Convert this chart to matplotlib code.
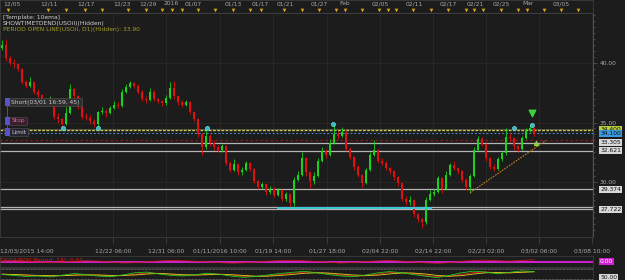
import matplotlib.pyplot as plt
import numpy as np

# USOil H4 candles (open = previous close)
first_open = 41.3
closes = [
    41.5, 40.4, 40.0, 39.9, 39.5, 38.4, 38.1, 38.4, 37.6, 37.3,
    37.0, 36.8, 36.9, 35.5, 35.3, 34.9, 35.8, 37.8, 37.2, 36.3,
    35.5, 35.4, 35.1, 34.9, 35.9, 36.0, 35.8, 36.2, 36.5, 36.4,
    37.6, 38.0, 38.3, 38.1, 37.6, 37.0, 36.9, 37.6, 37.0, 36.8,
    36.6, 37.1, 37.9, 37.2, 36.7, 36.5, 36.7, 35.9, 35.3, 34.0,
    32.9, 33.9, 33.3, 32.9, 32.7, 33.0, 31.6, 31.0, 31.5, 30.8,
    31.0, 31.6, 31.1, 30.1, 29.6, 29.8, 29.2, 29.4, 28.9, 29.3,
    28.6, 29.0, 28.2, 30.2, 30.6, 32.0, 30.8, 30.1, 30.5, 31.8,
    32.6, 32.3, 33.3, 34.0, 33.9, 34.2, 32.8, 32.1, 31.3, 30.6,
    29.9, 31.0, 32.3, 32.7, 31.8, 31.6, 31.2, 30.9, 30.4, 29.9,
    28.6, 28.3, 28.5, 27.3, 26.9, 26.6, 28.5, 29.0, 29.2, 30.3,
    29.4, 30.6, 31.4, 31.2, 30.9, 30.2, 29.6, 30.5, 32.7, 33.6,
    33.2, 32.0, 31.3, 31.1, 31.9, 32.4, 33.8, 33.7, 33.0, 32.8,
    33.7, 34.3, 34.5, 34.1,
]
highs = [
    41.9, 42.0, 40.6, 40.3, 40.0, 39.6, 38.6, 38.8, 38.5, 37.8,
    37.4, 37.1, 37.2, 37.0, 35.8, 35.4, 36.3, 38.2, 37.9, 37.3,
    36.4, 35.8, 35.6, 35.3, 36.0, 36.3, 36.1, 36.4, 36.8, 36.7,
    37.8, 38.2, 38.5, 38.4, 38.2, 37.7, 37.2, 37.9, 37.7, 37.1,
    36.9, 37.3, 38.4, 38.5, 37.3, 36.9, 36.9, 36.8, 36.0, 35.4,
    34.1, 34.5, 34.0, 33.5, 33.1, 33.2, 33.1, 31.8, 31.9, 31.6,
    31.3, 31.8, 31.7, 31.2, 30.2, 30.0, 29.9, 29.7, 29.6, 29.5,
    29.4, 29.2, 29.1, 30.4, 30.9, 32.5, 32.1, 30.9, 30.8, 32.0,
    32.9, 32.8, 33.6, 34.9, 34.3, 34.6, 34.3, 32.9, 32.2, 31.4,
    30.7, 31.2, 32.5, 33.5, 32.8, 32.0, 31.8, 31.3, 31.0, 30.5,
    30.0, 28.8, 28.8, 28.6, 27.4, 27.0, 28.7, 29.3, 29.4, 30.5,
    30.4, 30.9, 31.6, 31.8, 31.3, 31.0, 30.3, 30.7, 32.9, 33.9,
    33.8, 33.3, 32.1, 31.5, 32.1, 32.6, 34.5, 34.1, 33.8, 33.1,
    33.9, 34.5, 34.9, 34.6,
]
lows = [
    41.1, 40.2, 39.8, 39.6, 39.3, 38.2, 37.9, 38.0, 37.4, 37.1,
    36.8, 36.5, 36.6, 35.3, 35.0, 34.5, 34.8, 35.7, 36.9, 36.1,
    35.3, 35.2, 34.9, 34.6, 34.5, 35.7, 35.5, 35.7, 36.1, 36.2,
    36.3, 37.5, 37.9, 37.9, 37.4, 36.8, 36.6, 36.8, 36.8, 36.6,
    36.4, 36.5, 37.0, 37.0, 36.5, 36.3, 36.4, 35.7, 35.1, 33.8,
    32.3, 32.8, 33.0, 32.7, 32.5, 32.5, 31.4, 30.8, 30.9, 30.6,
    30.6, 30.9, 30.9, 29.9, 29.4, 29.4, 28.9, 29.0, 28.7, 28.8,
    28.4, 28.4, 27.8, 28.0, 30.1, 30.5, 30.5, 29.5, 29.8, 30.4,
    31.7, 32.0, 32.2, 33.2, 33.6, 33.8, 32.6, 31.9, 31.0, 30.4,
    29.6, 29.8, 30.9, 32.2, 31.6, 31.4, 31.0, 30.7, 30.2, 29.7,
    28.4, 28.1, 28.1, 27.1, 26.6, 26.1, 26.5, 28.4, 28.8, 29.1,
    29.1, 29.3, 30.5, 31.0, 30.7, 30.0, 29.3, 29.1, 30.4, 32.6,
    33.0, 31.8, 31.1, 30.9, 31.0, 31.8, 32.3, 33.4, 32.7, 32.5,
    32.7, 33.6, 34.2, 33.9,
]

# horizontal levels drawn on the chart
white_levels = [33.305, 32.621, 29.374, 27.9, 27.722]
white_labels = ["33.305", "32.621", "29.374", "", "27.722"]
tp_level = 34.4
limit_level = 34.1
stop_level = 33.57
support_level = 27.82
support_span = [68.75, 107.5]
trend_x = [117, 136]
trend_y = [29.1, 33.5]
touch_x = [15.25, 24, 51.25, 82.75, 128, 132.5]
touch_y = [34.5, 34.5, 34.5, 34.9, 34.5, 34.8]

# order tags at the left edge
tag_names = ["Short(03/01 16:59, 45)", "Stop", "Limit"]
tag_prices = [36.72, 35.13, 34.2]
tag_faces = ["#2e2e2e", "#3a1c2c", "#262632"]
tag_colors = ["#c8c8c8", "#c87898", "#c8c8d8"]

# time axes
bottom_ticks = [27.75, 41, 54.5, 67.75, 81.25, 94.5, 107.75, 121, 134.25, 147.5]
bottom_labels = ["12/22 06:00", "12/31 06:00", "01/11/2016 10:00", "01/19 14:00",
                 "01/27 18:00", "02/04 22:00", "02/14 22:00", "02/23 02:00",
                 "03/02 06:00", "03/08 10:00"]
top_ticks = [0.25, 9.5, 18.75, 27.75, 34.25, 40.5, 45.75, 55.75, 62.5, 68.75,
             77.25, 84.25, 92.5, 101, 109.5, 116.25, 122.75, 130, 137.75]
top_labels = ["12/05", "12/11", "12/17", "12/23", "12/29", "2016", "01/07", "01/13",
              "01/17", "01/21", "01/27", "Feb", "02/05", "02/11", "02/17", "02/21",
              "02/25", "Mar", "03/05"]
day_marks = [1.5, 11.5, 16, 20.75, 25, 31.5, 36, 40, 42.5, 45, 49, 53.25, 57.75,
             62, 64.75, 70.5, 75, 79.25, 83.5, 85.75, 90, 94.25, 96.5, 98.5, 102.75,
             107.25, 111.5, 116, 118, 120.25, 124.75, 129, 131.25, 135.5, 139.75,
             144, 148.25]

# indicator panels
osc = [0.3, 0.5, 0.2, -0.2, -0.5, -0.3, 0.1, 0.4, 0.2, -0.3, -0.8, -0.6, -0.2,
       0.3, 0.6, 0.4, 0.1, -0.2, -0.6, -0.9, -0.7, -0.3, 0.2, 0.5, 0.7, 0.4, 0.0,
       -0.4, -0.8, -0.5, -0.1, 0.3, 0.6, 0.2, -0.3, -0.7, -1.0, -0.6, 0.1, 0.5,
       0.8, 0.4, 0.2, 0.6, 0.9]
rsi_fast = [48, 44, 40, 42, 38, 45, 52, 47, 41, 39, 46, 55, 58, 50, 44, 42, 47,
            53, 49, 41, 36, 40, 46, 52, 57, 61, 55, 48, 42, 39, 45, 54, 60, 56,
            48, 41, 35, 44, 55, 62, 58, 51, 57, 63, 60]
rsi_slow = [50, 47, 44, 42, 41, 43, 47, 48, 45, 42, 43, 49, 54, 53, 48, 44, 45,
            49, 50, 46, 40, 39, 43, 48, 53, 58, 57, 52, 46, 41, 42, 49, 56, 57,
            52, 45, 39, 40, 48, 56, 59, 55, 54, 59, 61]
rsi_sig = [49, 48, 46, 44, 43, 43, 45, 46, 46, 44, 44, 46, 50, 52, 50, 47, 46,
           47, 48, 47, 44, 41, 41, 44, 48, 53, 55, 54, 50, 46, 44, 45, 50, 54,
           54, 50, 44, 41, 43, 50, 55, 56, 55, 57, 59]

BG = "#1c1c1c"
GRID = "#282828"
TXT = "#a8a8a8"
W, H = 625, 280
FS = 4.3

fig = plt.figure(figsize=(W / 100, H / 100), dpi=100)
fig.patch.set_facecolor(BG)


def px_axes(x0, y0, x1, y1):
    a = fig.add_axes([x0 / W, 1 - y1 / H, (x1 - x0) / W, (y1 - y0) / H])
    a.set_facecolor(BG)
    for s in a.spines.values():
        s.set_color("#3c3c3c")
        s.set_linewidth(0.6)
    return a


XL = (-0.5, 147.75)

# ---- main price panel
ax = px_axes(0, 13, 593, 237)
ax.set_xlim(*XL)
ax.set_ylim(25.38, 44.2)

opens = [first_open] + closes[:-1]
x = np.arange(len(closes))
o = np.array(opens)
c = np.array(closes)
up = c >= o
cols = np.where(up, "#19d219", "#e01010")
ax.vlines(x, lows, highs, colors=cols, linewidth=0.6, zorder=3)
ax.bar(x, np.maximum(np.abs(c - o), 0.05), bottom=np.minimum(o, c), width=0.5,
       color=cols, linewidth=0, zorder=3)

ax.set_xticks(bottom_ticks)
ax.set_xticklabels(bottom_labels)
ax.set_yticks([30, 35, 40])
ax.set_yticklabels(["30.00", "35.00", "40.00"])
ax.set_yticks(np.arange(26, 44.5, 0.5), minor=True)
ax.yaxis.tick_right()
ax.tick_params(axis="y", which="major", colors="#5a5a5a", labelcolor=TXT,
               labelsize=FS, length=3, pad=2, width=0.5)
ax.tick_params(axis="y", which="minor", colors="#5a5a5a", length=1.5, width=0.5)
ax.tick_params(axis="x", colors="#4a4a4a", labelcolor=TXT, labelsize=FS,
               length=4, pad=4, width=0.5, direction="out")
ax.grid(True, color=GRID, linewidth=0.6)
ax.spines["right"].set_color("#5a5a5a")

for lv in white_levels:
    ax.axhline(lv, color="#b4b4b4", linewidth=0.9, zorder=2)
ax.axhline(tp_level, color="#c8c85a", linewidth=1.0, linestyle=(0, (2, 1)), zorder=2)
ax.axhline(tp_level + 0.08, color="#6a6a4a", linewidth=0.5, zorder=2)
ax.axhline(limit_level, color="#4a90d0", linewidth=0.7, linestyle=(0, (2, 2)), zorder=2)
ax.axhline(stop_level, color="#8a1c1c", linewidth=0.9, linestyle=(0, (2, 2)), zorder=2)
ax.hlines(support_level, support_span[0], support_span[1], color="#3cc8d8",
          linewidth=1.4, zorder=4)
ax.plot(trend_x, trend_y, color="#c8801e", linewidth=0.8, linestyle=(0, (1.5, 1)),
        zorder=4)
ax.scatter(touch_x, touch_y, s=9, color="#38b8c0", edgecolors="#7ff0f0",
           linewidths=0.4, zorder=5)
ax.scatter([touch_x[-1]], [touch_y[-1] + 1.0], marker="v", s=22, color="#3cd23c",
           zorder=6)
ax.scatter([133.5], [33.3], marker="^", s=8, color="#8ed23c", zorder=6)

ytr = ax.get_yaxis_transform()
box = dict(boxstyle="square,pad=0.15", linewidth=0)
for lv, lab in zip(white_levels, white_labels):
    if lab:
        ax.text(1.012, lv, lab, transform=ytr, fontsize=FS, color="#111111",
                va="center", ha="left", bbox=dict(box, facecolor="#d8d8d8"),
                clip_on=False)
ax.text(1.012, tp_level, "34.400", transform=ytr, fontsize=FS, color="#111111",
        va="center", ha="left", bbox=dict(box, facecolor="#b8d040"), clip_on=False)
ax.text(1.012, limit_level - 0.05, "34.100", transform=ytr, fontsize=FS,
        color="#111111", va="center", ha="left",
        bbox=dict(box, facecolor="#3a98dc"), clip_on=False)
ax.text(-0.5, -0.05, "12/03/2015 14:00", transform=ax.get_xaxis_transform(),
        fontsize=FS, color=TXT, ha="left", va="top")

# trade tags on the left
ax.vlines(1.25, tag_prices[2], tag_prices[0], color="#707070", linewidth=0.5,
          zorder=6)
for name, yv, face, fg in zip(tag_names, tag_prices, tag_faces, tag_colors):
    ax.text(0.019, yv, name, transform=ytr, fontsize=FS, color=fg, va="center",
            ha="left", bbox=dict(boxstyle="square,pad=0.3", facecolor=face,
                                 edgecolor="#555555", linewidth=0.4), zorder=7)
    ax.text(0.011, yv, " ", transform=ytr, fontsize=FS, va="center",
            bbox=dict(boxstyle="square,pad=0.25", facecolor="#5a50c8",
                      linewidth=0), zorder=8)

fig.text(3 / W, 1 - 17 / H, "[Template: 10ema]", fontsize=FS, color="#d0d0d0",
         va="center")
fig.text(3 / W, 1 - 23.5 / H, "SHOWTIMETDEND(USOil)(Hidden)", fontsize=FS,
         color="#d0d0d0", va="center")
fig.text(3 / W, 1 - 30 / H, "PERIOD OPEN LINE(USOil, D1)(Hidden): 33.90",
         fontsize=FS, color="#a0a028", va="center")

# ---- top time ruler
top = px_axes(0, 0, 593, 13)
top.set_xlim(*XL)
top.set_ylim(0, 1)
top.set_yticks([])
top.set_xticks([])
for t, lab in zip(top_ticks, top_labels):
    top.text(t, 0.72, lab, fontsize=FS, color=TXT, ha="left", va="center")
top.scatter(day_marks, [0.22] * len(day_marks), marker="v", s=7, color="#d8a418",
            linewidths=0)
top.axhline(0.02, color="#555555", linewidth=0.8)

# ---- oscillator panel
p1 = px_axes(0, 256, 593, 267)
p1.set_xlim(*XL)
p1.set_ylim(-3, 3)
p1.set_xticks([])
p1.set_yticks([])
p1.axhline(0, color="#e020e0", linewidth=1.3)
p1.plot(np.linspace(0, 133, len(osc)), osc, color="#c81818", linewidth=0.6)
p1.text(0.0, 0.55, "OSC(USOil,Period: 14): 0.01", transform=p1.transAxes,
        fontsize=FS, color="#e01818", va="center")
p1.text(1.012, 0, "0.00", transform=p1.get_yaxis_transform(), fontsize=FS,
        color="#ffffff", va="center", bbox=dict(box, facecolor="#d020d0"),
        clip_on=False)

# ---- rsi panel
p2 = px_axes(0, 268, 593, 280)
p2.set_xlim(*XL)
p2.set_ylim(25, 75)
p2.set_xticks([])
p2.set_yticks([])
for lv in (70, 30):
    p2.axhline(lv, color="#9a9a9a", linewidth=0.5, linestyle=(0, (1, 1)))
xs = np.linspace(0, 133, len(rsi_fast))
p2.plot(xs, rsi_slow, color="#e01818", linewidth=0.6)
p2.plot(xs, rsi_sig, color="#e0d020", linewidth=0.6)
p2.plot(xs, rsi_fast, color="#20d020", linewidth=0.6)
p2.text(1.012, 36, "50.00", transform=p2.get_yaxis_transform(), fontsize=FS,
        color="#111111", va="center", bbox=dict(box, facecolor="#d8d8d8"),
        clip_on=False)

fig.savefig("out.png", dpi=100, facecolor=BG)
